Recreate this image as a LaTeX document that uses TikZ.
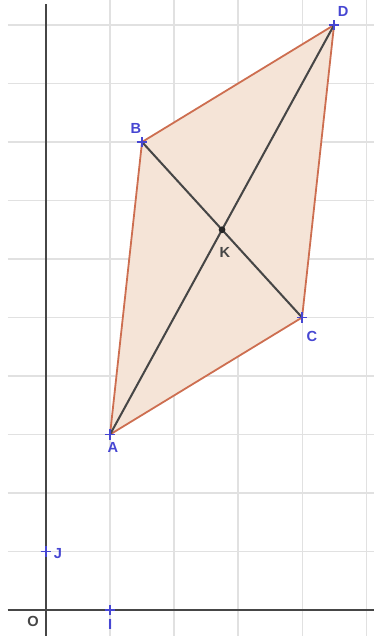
\documentclass[tikz,border=0pt]{standalone}
\usepackage{fontspec}
\setmainfont{Liberation Sans}
\usetikzlibrary{
    shapes.misc,
    positioning,
    calc
}
\definecolor{gridgray}{RGB}{225,225,225}
\definecolor{axisgray}{RGB}{70,70,70}
\definecolor{ptblue}{RGB}{70,70,210}
\definecolor{edgeorange}{RGB}{205,110,80}
\definecolor{fillpeach}{RGB}{245,228,215}
\tikzset{
    gridline/.style={draw=gridgray, line width=0.5pt},
    axisline/.style={draw=axisgray, line width=0.7pt},
    ptmark/.style={draw=ptblue, line width=0.8pt},
    ptlabel/.style={text=ptblue, font=\fontsize{6.5}{7}\selectfont\bfseries, inner sep=0pt},
    diag/.style={draw=axisgray, line width=0.9pt}
}

\begin{document}
\begin{tikzpicture}[x=1cm, y=0.914cm]
    \useasboundingbox (-0.719,-0.444) rectangle (5.125,10.427);
    % grid
    \foreach \gx in {1,...,5}
        \draw[gridline] (\gx,-0.444) -- (\gx,10.427);
    \foreach \gy in {1,...,10}
        \draw[gridline] (-0.6,\gy) -- (5.125,\gy);
    % axes
    \coordinate (O) at (0,0);
    \draw[axisline] (-0.6,0) -- (5.125,0);
    \draw[axisline] (0,-0.444) -- (0,10.35);
    % the points
    \coordinate (A) at (1,3);
    \coordinate (B) at (1.5,8);
    \coordinate (C) at (4,5);
    \coordinate (D) at (4.5,10);
    \coordinate (K) at (2.75,6.5);
    \coordinate (I) at (1,0);
    \coordinate (J) at (0,1);
    % parallelogram
    \draw[draw=edgeorange, line width=0.8pt, fill=fillpeach] (A) -- (C) -- (D) -- (B) -- cycle;
    \draw[diag] (A) -- (D);
    \draw[diag] (B) -- (C);
    % marks
    \foreach \p in {A,B,C,D,I,J}
        \draw[ptmark] (\p) +(-2.4pt,0) -- +(2.4pt,0) +(0,-2.4pt) -- +(0,2.4pt);
    \fill[black!85] (K) circle (1.5pt);
    % labels
    \node[ptlabel, xshift=1.3pt, yshift=-5.8pt] (lA) at (A) {A};
    \node[ptlabel, xshift=-2.7pt, yshift=6.2pt] (lB) at (B) {B};
    \node[ptlabel, xshift=4.4pt, yshift=-8.4pt] (lC) at (C) {C};
    \node[ptlabel, xshift=4pt, yshift=5.8pt] (lD) at (D) {D};
    \node[ptlabel, text=axisgray, xshift=1.3pt, yshift=-10pt] (lK) at (K) {K};
    \node[ptlabel, xshift=5.3pt, yshift=-0.9pt] (lJ) at (J) {J};
    \node[ptlabel, yshift=-6.6pt] (lI) at (I) {I};
    \node[ptlabel, text=axisgray, xshift=-5.8pt, yshift=-5.3pt] (lO) at (O) {O};
\end{tikzpicture}
\end{document}
